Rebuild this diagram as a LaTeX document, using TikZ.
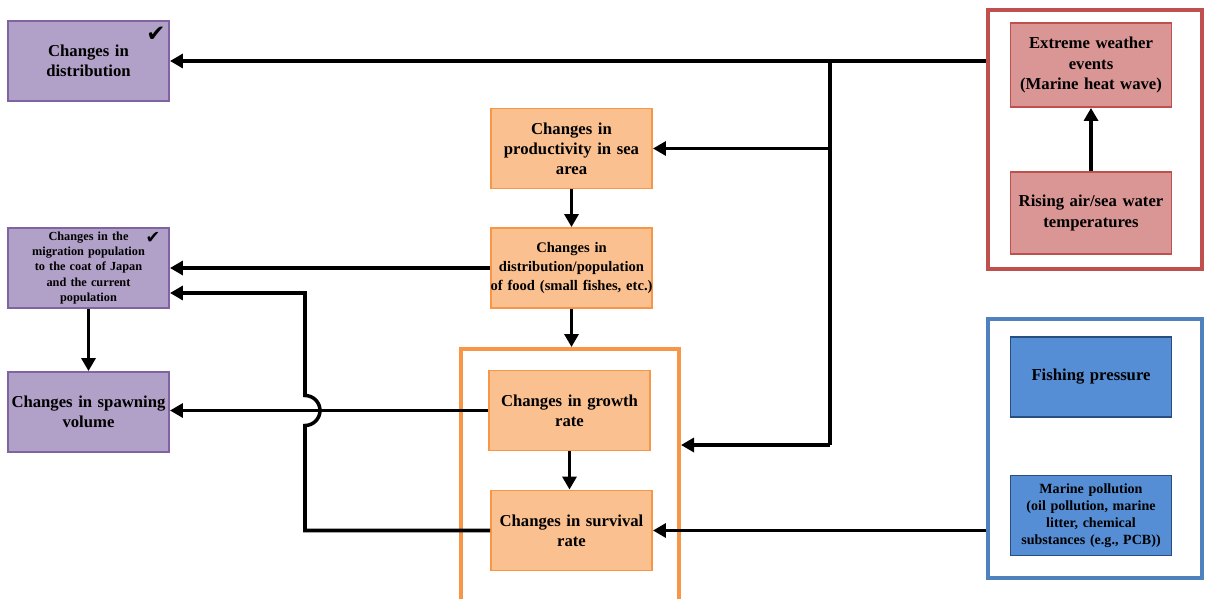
\documentclass[tikz,border=0pt]{standalone}
\usepackage{fontspec}
\setmainfont{Liberation Serif}
\newfontfamily\symfont{DejaVu Sans}
\usetikzlibrary{arrows.meta}
\definecolor{purpfill}{RGB}{177,160,199}
\definecolor{purpline}{RGB}{128,100,162}
\definecolor{orfill}{RGB}{250,192,143}
\definecolor{orline}{RGB}{247,150,70}
\definecolor{redfill}{RGB}{217,150,148}
\definecolor{redline}{RGB}{192,80,77}
\definecolor{bluefill}{RGB}{85,142,213}
\definecolor{blueline}{RGB}{40,78,128}
\definecolor{blueframe}{RGB}{79,129,189}
\begin{document}
\begin{tikzpicture}[x=0.02cm, y=-0.02cm,
  box/.style={draw, line width=1.1pt, minimum width=3.22cm, minimum height=1.6cm,
    text width=3.1cm, align=center, inner sep=0pt,
    font=\fontsize{9.5}{11.5}\selectfont\bfseries},
  purpbox/.style={box, fill=purpfill, draw=purpline},
  orbox/.style={box, fill=orfill, draw=orline},
  redbox/.style={box, fill=redfill, draw=redline},
  bluebox/.style={box, fill=bluefill, draw=blueline},
  frame/.style={draw, line width=2.3pt, minimum width=4.28cm, minimum height=5.18cm, inner sep=0pt},
  arr/.style={line width=2pt, -{Triangle[length=0.26cm, width=0.28cm]}},
  ln/.style={line width=2pt},
  tick/.style={font=\symfont\fontsize{13}{13}\selectfont, inner sep=0pt}]
\useasboundingbox (0,0) rectangle (1206,598);
\node[frame, draw=redline] (redF) at (1095,139.5) {};
\node[frame, draw=blueframe] (blueF) at (1095,448.5) {};
\node[frame, draw=orline, minimum width=4.36cm, minimum height=5.42cm] (orangeF) at (570,484.5) {};
\node[purpbox] (distB) at (88.5,61) {Changes in\\distribution};
\node[purpbox, font=\fontsize{7}{8.6}\selectfont\bfseries] (migB) at (88.5,268) {Changes in the\\migration population\\to the coat of Japan\\and the current\\population};
\node[purpbox] (spawnB) at (88.5,412) {Changes in spawning\\volume};
\node[orbox] (prodB) at (571.5,148.5) {Changes in\\productivity in sea\\area};
\node[orbox, font=\fontsize{8.3}{10.6}\selectfont\bfseries] (foodB) at (571.5,268) {Changes in\\distribution/population\\\makebox[\linewidth][c]{of food (small fishes, etc.)}};
\node[orbox] (growthB) at (569.5,410.5) {Changes in growth\\rate};
\node[orbox] (survB) at (571.5,530.5) {Changes in survival\\rate};
\node[redbox, minimum height=1.68cm] (extremeB) at (1091,65) {Extreme weather\\events\\(Marine heat wave)};
\node[redbox, minimum height=1.64cm] (risingB) at (1091,213) {Rising air/sea water\\temperatures};
\node[bluebox] (fishB) at (1091,377) {Fishing pressure};
\node[bluebox, font=\fontsize{8}{9.6}\selectfont\bfseries] (pollB) at (1091,515.5) {Marine pollution\\(oil pollution, marine\\litter, chemical\\substances (e.g., PCB))};
\node[tick] (tick1) at (156,34) {✔};
\node[tick, font=\symfont\fontsize{10}{10}\selectfont] (tick2) at (153,238) {✔};
\coordinate (tapTop) at (830,61);
\coordinate (tapBot) at (830,445);
\coordinate (hop) at (305,410.5);
\coordinate (migIn) at ([yshift=-0.5cm]migB.east);
\draw[arr] (redF.west |- distB.east) -- (distB.east);
\draw[ln] (tapTop) -- (tapBot);
\draw[arr] (tapTop |- prodB.east) -- (prodB.east);
\draw[arr] (tapBot) -- (tapBot -| orangeF.east);
\draw[arr] (prodB) -- (foodB);
\draw[arr] (foodB.south) -- (foodB.south |- orangeF.north);
\draw[arr] (growthB.south) -- (growthB.south |- survB.north);
\draw[arr] (foodB.west) -- (foodB.west -| migB.east);
\draw[arr] (migB) -- (spawnB);
\draw[arr] (growthB.west) -- (growthB.west -| spawnB.east);
\draw[arr] (survB.west) -- (survB.west -| hop) -- ([yshift=-0.3cm]hop)
  arc[start angle=-90, end angle=90, radius=0.3cm] -- (hop |- migIn) -- (migIn);
\draw[arr] (blueF.west |- survB.east) -- (survB.east);
\draw[arr] (risingB) -- (extremeB);
\end{tikzpicture}
\end{document}
